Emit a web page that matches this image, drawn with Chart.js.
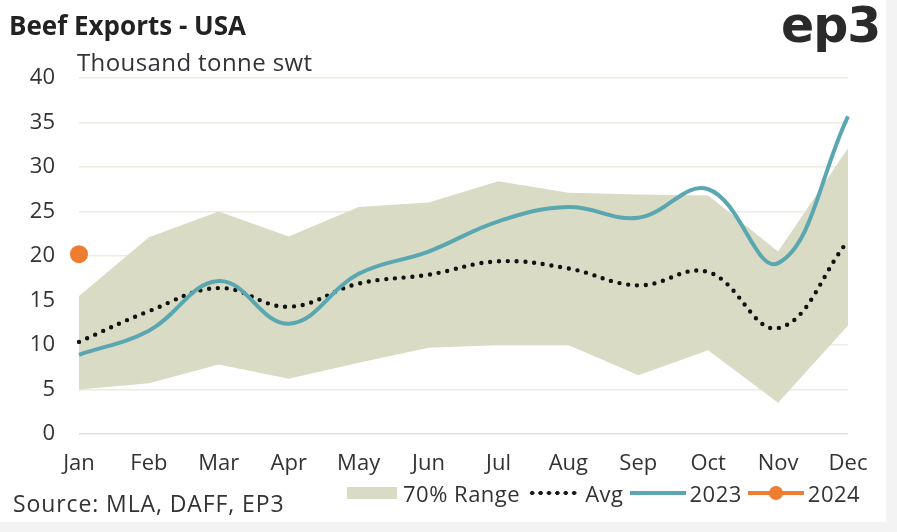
<!DOCTYPE html>
<html lang="en">
<head>
    <meta charset="UTF-8">
    <title>Beef Exports - USA</title>
    <script src="https://cdn.jsdelivr.net/npm/chart.js"></script>
    <style>
        body {
            margin: 0;
            width: 897px;
            height: 532px;
            position: relative;
            overflow: hidden;
            background-color: #f3f3f3;
            font-family: "Open Sans", sans-serif;
            color: #333333;
        }

        .page {
            position: absolute;
            left: 0;
            top: 0;
            width: 886px;
            height: 522px;
            background-color: #ffffff;
        }

        .title {
            position: absolute;
            left: 9px;
            top: 12px;
            font-size: 26px;
            line-height: 26px;
            font-weight: 700;
            color: #222222;
        }

        .logo {
            position: absolute;
            left: 781px;
            top: 1px;
            font-family: "DejaVu Sans", sans-serif;
            font-size: 49px;
            line-height: 49px;
            font-weight: 700;
            letter-spacing: -1px;
            color: #2a2a2a;
        }

        .subtitle {
            position: absolute;
            left: 77px;
            top: 50px;
            font-size: 24px;
            line-height: 24px;
            letter-spacing: 0.4px;
        }

        .source {
            position: absolute;
            left: 13px;
            top: 492px;
            font-size: 23px;
            line-height: 23px;
            letter-spacing: 0.9px;
        }

        .chart-wrapper {
            position: absolute;
            left: 0;
            top: 0;
            width: 886px;
            height: 522px;
        }

        .legend {
            position: absolute;
            left: 347px;
            top: 482px;
            display: flex;
            align-items: center;
            font-size: 22px;
            line-height: 22px;
            letter-spacing: 0.5px;
        }

        .legend .box {
            width: 50px;
            height: 12px;
            background-color: #d9dbc4;
            margin-right: 6px;
        }

        .legend .dots {
            width: 50px;
            height: 8px;
            margin: 0 7px 0 8px;
            background-image: radial-gradient(circle, #1a1a1a 1.9px, transparent 2.4px);
            background-size: 8.4px 8px;
        }

        .legend .line {
            width: 56px;
            height: 4px;
            margin: 0 4px 0 6px;
            position: relative;
        }

        .legend .line.teal { background-color: #5aa7b1; }
        .legend .line.orange { background-color: #ef7d31; }

        .legend .line.orange::after {
            content: "";
            position: absolute;
            left: 21px;
            top: -5px;
            width: 14px;
            height: 14px;
            border-radius: 50%;
            background-color: #ef7d31;
        }
    </style>
</head>
<body>
    <div class="page">
        <div class="chart-wrapper">
            <canvas id="exportsChart"></canvas>
        </div>
        <div class="title">Beef Exports - USA</div>
        <div class="logo">ep3</div>
        <div class="subtitle">Thousand tonne swt</div>
        <div class="source">Source: MLA, DAFF, EP3</div>
        <div class="legend">
            <span class="box"></span><span>70% Range</span>
            <span class="dots"></span><span>Avg</span>
            <span class="line teal"></span><span>2023</span>
            <span class="line orange"></span><span>2024</span>
        </div>
    </div>

    <script>
        const months = ['Jan', 'Feb', 'Mar', 'Apr', 'May', 'Jun', 'Jul', 'Aug', 'Sep', 'Oct', 'Nov', 'Dec'];
        const rangeLow = [5.0, 5.7, 7.8, 6.2, 8.0, 9.7, 10.0, 10.0, 6.6, 9.4, 3.5, 12.2];
        const rangeHigh = [15.5, 22.1, 25.0, 22.2, 25.5, 26.0, 28.4, 27.1, 26.9, 26.8, 20.5, 32.1];
        const avg = [10.35, 13.8, 16.4, 14.3, 16.9, 17.9, 19.4, 18.6, 16.7, 18.2, 11.9, 21.7];
        const exports2023 = [8.9, 11.6, 17.2, 12.4, 18.0, 20.5, 23.9, 25.5, 24.3, 27.5, 19.2, 35.7];
        const exports2024 = [20.2, null, null, null, null, null, null, null, null, null, null, null];

        const tickFont = { family: '"Open Sans", sans-serif', size: 22 };

        const ctx = document.getElementById('exportsChart').getContext('2d');
        new Chart(ctx, {
            type: 'line',
            data: {
                labels: months,
                datasets: [
                    {
                        label: '2024',
                        data: exports2024,
                        borderColor: '#ef7d31',
                        backgroundColor: '#ef7d31',
                        pointRadius: 9,
                        pointBorderWidth: 0,
                        clip: false,
                        fill: false
                    },
                    {
                        label: '2023',
                        data: exports2023,
                        borderColor: '#5aa7b1',
                        borderWidth: 4,
                        tension: 0.4,
                        pointRadius: 0,
                        fill: false
                    },
                    {
                        label: 'Avg',
                        data: avg,
                        borderColor: '#111111',
                        borderWidth: 4.4,
                        borderDash: [0, 8.8],
                        borderCapStyle: 'round',
                        tension: 0.4,
                        pointRadius: 0,
                        fill: false
                    },
                    {
                        label: '70% Range',
                        data: rangeHigh,
                        borderWidth: 0,
                        borderColor: 'rgba(0,0,0,0)',
                        backgroundColor: '#d9dbc4',
                        tension: 0,
                        pointRadius: 0,
                        fill: '+1'
                    },
                    {
                        label: 'low',
                        data: rangeLow,
                        borderWidth: 0,
                        borderColor: 'rgba(0,0,0,0)',
                        tension: 0,
                        pointRadius: 0,
                        fill: false
                    }
                ]
            },
            options: {
                responsive: true,
                maintainAspectRatio: false,
                animation: false,
                layout: {
                    padding: { top: 78, right: 38, left: 0, bottom: 0 }
                },
                plugins: {
                    legend: { display: false },
                    tooltip: { enabled: false },
                    filler: { drawTime: 'beforeDatasetsDraw' }
                },
                scales: {
                    x: {
                        grid: { display: false, drawTicks: false },
                        border: { display: false },
                        ticks: { color: '#333333', font: tickFont, padding: 17, maxRotation: 0 },
                        afterFit: scale => { scale.height = 88; }
                    },
                    y: {
                        min: 0,
                        max: 40,
                        grid: {
                            drawTicks: false,
                            lineWidth: 1.5,
                            color: c => c.tick && c.tick.value === 0 ? '#dedede' : '#ececdf'
                        },
                        border: { display: false },
                        ticks: { stepSize: 5, color: '#333333', font: tickFont, padding: 24 },
                        afterFit: scale => { scale.width = 79; }
                    }
                }
            }
        });
    </script>
</body>
</html>
